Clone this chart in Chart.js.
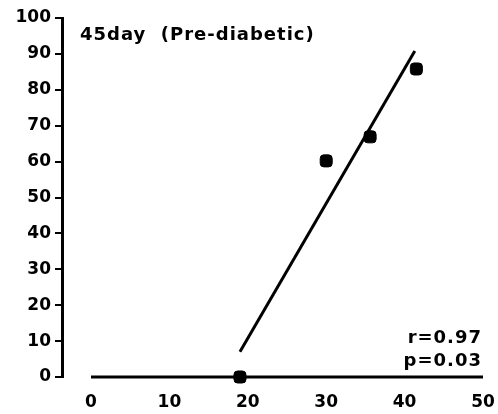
<!DOCTYPE html>
<html>
<head>
<meta charset="utf-8">
<script src="https://cdn.jsdelivr.net/npm/chart.js@4.4.1/dist/chart.umd.min.js"></script>
<style>
  html, body { margin: 0; padding: 0; background: #fff; }
  #wrap { width: 498px; height: 414px; }
</style>
</head>
<body>
<div id="wrap"><canvas id="grafico"></canvas></div>
<script>
// Dados
const pontosX = [19, 30, 35.6, 41.5];
const pontosY = [0, 60.2, 66.9, 85.8];
const retaX = [19, 41.3];
const retaY = [7, 90.8];
const ticksX = [0, 10, 20, 30, 40, 50];
const ticksY = [0, 10, 20, 30, 40, 50, 60, 70, 80, 90, 100];
const titulo = '45day  (Pre-diabetic)';
const estatisticas = ['r=0.97', 'p=0.03'];

const fonte = { family: '"DejaVu Sans"', weight: 'bold', size: 17 };

// Plugin: eixo x (0 a 50) e textos
const extras = {
  id: 'extras',
  afterDraw(chart) {
    const ctx = chart.ctx;
    const sx = chart.scales.x, sy = chart.scales.y;
    ctx.save();
    ctx.strokeStyle = '#000';
    ctx.lineWidth = 3;
    ctx.beginPath();
    ctx.moveTo(sx.getPixelForValue(0), sy.getPixelForValue(0));
    ctx.lineTo(sx.getPixelForValue(50), sy.getPixelForValue(0));
    ctx.stroke();

    ctx.fillStyle = '#000';
    ctx.font = 'bold 18px "DejaVu Sans"';
    ctx.letterSpacing = '1px';
    ctx.textBaseline = 'middle';
    ctx.textAlign = 'left';
    ctx.fillText(titulo, 80, 35);
    ctx.textAlign = 'right';
    ctx.fillText(estatisticas[0], 482, 338);
    ctx.fillText(estatisticas[1], 482, 361);
    ctx.restore();
  }
};

const ctx = document.getElementById('grafico').getContext('2d');
new Chart(ctx, {
  type: 'scatter',
  data: {
    datasets: [
      {
        data: pontosX.map((x, i) => ({ x: x, y: pontosY[i] })),
        pointStyle: 'rectRounded',
        pointRadius: 7,
        backgroundColor: '#000',
        borderColor: '#000',
        clip: false
      },
      {
        type: 'line',
        data: retaX.map((x, i) => ({ x: x, y: retaY[i] })),
        borderColor: '#000',
        borderWidth: 3,
        pointRadius: 0,
        fill: false,
        clip: false
      }
    ]
  },
  options: {
    responsive: true,
    maintainAspectRatio: false,
    animation: false,
    layout: { padding: { left: 0, right: 15, top: 18, bottom: 0 } },
    plugins: { legend: { display: false }, tooltip: { enabled: false } },
    scales: {
      x: {
        type: 'linear',
        min: -3.7,
        max: 50,
        afterBuildTicks: axis => { axis.ticks = ticksX.map(v => ({ value: v })); },
        afterFit: axis => { axis.height = 37; axis.paddingRight = 0; },
        border: { display: false },
        grid: { display: false },
        ticks: { color: '#000', font: fonte, padding: 7, maxRotation: 0 }
      },
      y: {
        min: 0,
        max: 100,
        afterBuildTicks: axis => { axis.ticks = ticksY.map(v => ({ value: v })); },
        afterFit: axis => { axis.width = 62; },
        border: { display: true, color: '#000', width: 3 },
        grid: { drawOnChartArea: false, drawTicks: true, tickLength: 7, color: '#000', lineWidth: 2 },
        ticks: { color: '#000', font: fonte, padding: 4 }
      }
    }
  },
  plugins: [extras]
});
</script>
</body>
</html>
